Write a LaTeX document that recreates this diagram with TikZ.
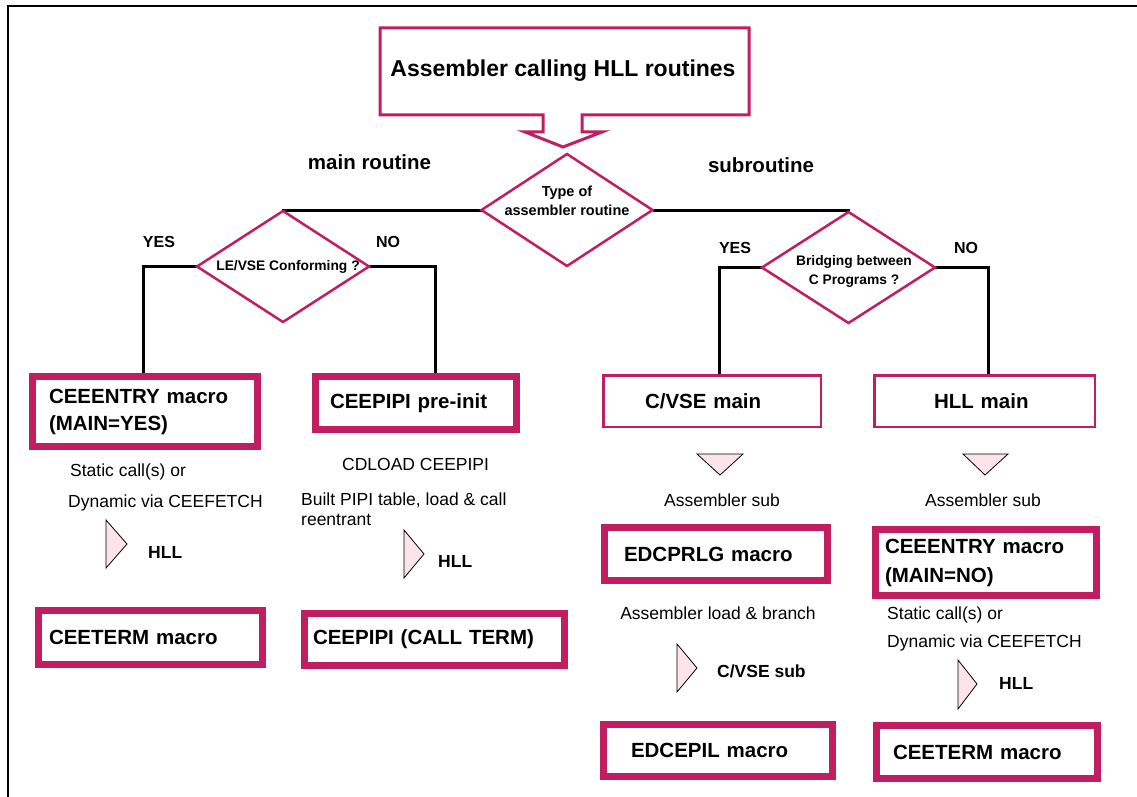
\documentclass[tikz,border=0pt]{standalone}
\usepackage{fontspec}
\setmainfont{Liberation Sans}
\usetikzlibrary{shapes.geometric,backgrounds}
\definecolor{mag}{RGB}{193,30,98}
\definecolor{pinkfill}{RGB}{253,228,234}
\newcommand\titlefnt{\fontsize{23}{27}\selectfont\bfseries}
\newcommand\boxfntA{\fontsize{20.5}{27}\selectfont\bfseries}
\newcommand\boxfntB{\fontsize{20.5}{29}\selectfont\bfseries}
\newcommand\regfnt{\fontsize{17.5}{20}\selectfont}
\newcommand\bfsmall{\fontsize{17.5}{20}\selectfont\bfseries}
\newcommand\ynfnt{\fontsize{16}{19}\selectfont\bfseries}
\newcommand\diafntA{\fontsize{14.5}{19}\selectfont\bfseries}
\newcommand\diafntB{\fontsize{13.8}{19}\selectfont\bfseries}
\begin{document}
\begin{tikzpicture}[x=1pt,y=-1pt,
  thickbox/.style={draw=mag, line width=7pt, fill=white, align=left, font=\boxfntA, inner ysep=0pt, outer sep=0pt},
  thinbox/.style={draw=mag, line width=2.5pt, fill=white, align=left, font=\boxfntA, inner ysep=0pt, outer sep=0pt},
  dia/.style={diamond, draw=mag, line width=2.5pt, fill=white, inner sep=0pt, outer sep=0pt},
  dtext/.style={align=center, inner sep=0pt},
  conn/.style={draw=black, line width=3pt},
  regtext/.style={font=\regfnt, inner sep=0pt, anchor=west},
  bftext/.style={font=\bfsmall, inner sep=0pt, anchor=west},
  yn/.style={font=\ynfnt, inner sep=0pt},
  hdr/.style={font=\boxfntA, inner sep=0pt},
  tri/.style={draw=black, line width=0.8pt, fill=pinkfill, line join=miter}
]
\useasboundingbox (0,0) rectangle (1137,797);
% frame
\draw[line width=2pt] (8,797) -- (8,6) -- (1137,6);

% title callout
\draw[draw=mag, line width=3pt, fill=white, line join=miter]
  (380,28) -- (749,28) -- (749,115) -- (582,115) -- (582,132) -- (602,132)
  -- (563,147) -- (525,132) -- (543,132) -- (543,115) -- (380,115) -- cycle;
\node[font=\titlefnt, inner sep=0pt] (title) at (563,71) {Assembler calling HLL routines};

\node[hdr] (mainr) at (369.5,162) {main routine};
\node[hdr] (subr) at (761,165) {subroutine};

% diamonds
\node[dia, minimum width=171, minimum height=112] (d1) at (567,210) {};
\node[dtext, font=\diafntA] (d1t) at (567,201) {Type of\\assembler routine};
\node[dia, minimum width=172, minimum height=111] (d2) at (283,266.5) {};
\node[dtext, font=\diafntB] (d2t) at (288,267) {LE/VSE Conforming ?};
\node[dia, minimum width=173, minimum height=111] (d3) at (848.5,267.5) {};
\node[dtext, font=\diafntB] (d3t) at (854,271.5) {Bridging between\\C Programs ?};

\node[yn] (yes1) at (159,242) {YES};
\node[yn] (no1) at (388,242) {NO};
\node[yn] (yes2) at (735,248) {YES};
\node[yn] (no2) at (966,248) {NO};

% boxes
\node[thickbox, minimum width=225, minimum height=70, inner xsep=16.5, text width=192] (a) at (145,411.5) {CEEENTRY macro\\(MAIN=YES)};
\node[thickbox, minimum width=201, minimum height=53, inner xsep=14.5, text width=172] (b) at (416,403) {CEEPIPI pre-init};
\node[thickbox, minimum width=224, minimum height=54, inner xsep=10.5, text width=203] (c) at (150.5,637.5) {CEETERM macro};
\node[thickbox, minimum width=260, minimum height=52, inner xsep=8.5, text width=243] (dd) at (434.5,639.5) {CEEPIPI (CALL TERM)};
\node[thinbox, minimum width=217.5, minimum height=51.5, inner xsep=41.75, text width=134] (cvse) at (712,401) {C/VSE main};
\node[thinbox, minimum width=220.5, minimum height=51.5, inner xsep=59.75, text width=101] (hllm) at (984.5,401) {HLL main};
\node[thickbox, minimum width=223, minimum height=53, inner xsep=19.5, text width=184] (e) at (716,554) {EDCPRLG macro};
\node[thickbox, font=\boxfntB, minimum width=221, minimum height=66, inner xsep=9.5, text width=202] (f) at (986,562.5) {CEEENTRY macro\\(MAIN=NO)};
\node[thickbox, minimum width=229, minimum height=52, inner xsep=27.5, text width=174] (g) at (718,750.5) {EDCEPIL macro};
\node[thickbox, minimum width=221, minimum height=53, inner xsep=16.5, text width=188] (h) at (987,752) {CEETERM macro};

% connectors
\begin{scope}[on background layer]
\draw[conn] (d1.west) -| (d2.north);
\draw[conn] (d1.east) -| (d3.north);
\draw[conn] (d2.west) -| ([xshift=-2pt]a.north);
\draw[conn] (d2.east) -| ([xshift=19pt]b.north);
\draw[conn] (d3.west) -| ([xshift=7pt]cvse.north);
\draw[conn] (d3.east) -| ([xshift=3.5pt]hllm.north);
\end{scope}

% left column texts
\node[regtext] (s1) at (70,472) {Static call(s) or};
\node[regtext] (s2) at (68,503) {Dynamic via CEEFETCH};
\draw[tri] (106,520) -- (106,568) -- (127,544) -- cycle;
\node[bftext] (hll1) at (148,552) {HLL};

\node[regtext] (cd) at (342,464) {CDLOAD CEEPIPI};
\node[regtext, align=left, font={\fontsize{17.5}{20}\selectfont}, anchor=north west] (bp) at (301,493) {Built PIPI table, load \& call\\reentrant};
\draw[tri] (404,530) -- (404,578) -- (424,554) -- cycle;
\node[bftext] (hll2) at (438,561) {HLL};

% right columns
\draw[tri] (697,454) -- (743,454) -- (720,475) -- cycle;
\draw[tri] (963,454) -- (1008,454) -- (985,475) -- cycle;
\node[font=\regfnt, inner sep=0pt] (as1) at (722,500) {Assembler sub};
\node[font=\regfnt, inner sep=0pt] (as2) at (983,500) {Assembler sub};
\node[font=\regfnt, inner sep=0pt] (alb) at (718,613) {Assembler load \& branch};
\draw[tri] (677,644) -- (677,692) -- (697,668) -- cycle;
\node[bftext] (cvsesub) at (717,671) {C/VSE sub};

\node[regtext] (s3) at (887,615) {Static call(s) or};
\node[regtext] (s4) at (887,643) {Dynamic via CEEFETCH};
\draw[tri] (958,660) -- (958,709) -- (977,684) -- cycle;
\node[bftext] (hll3) at (999,683) {HLL};
\end{tikzpicture}
\end{document}
